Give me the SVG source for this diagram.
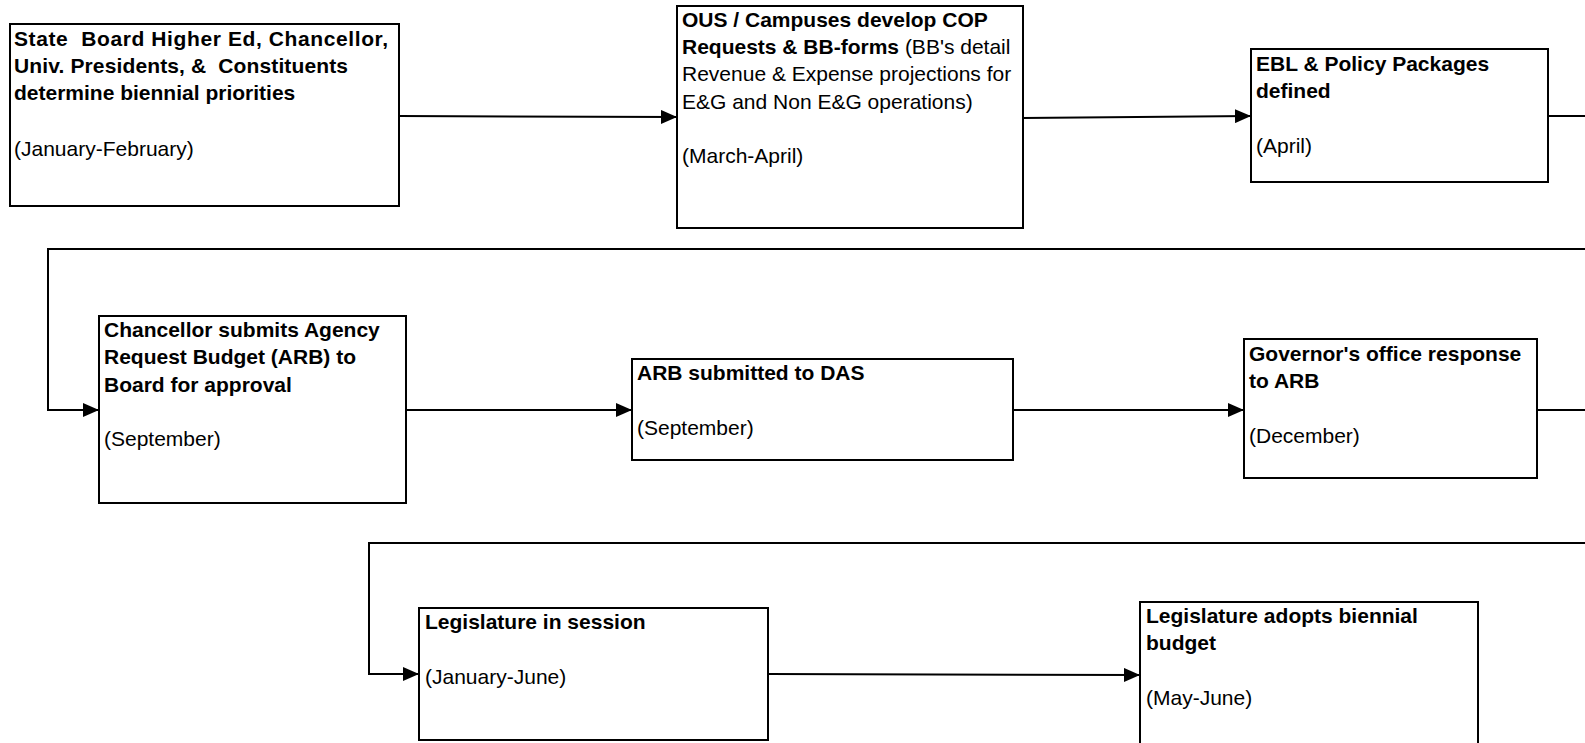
<svg xmlns="http://www.w3.org/2000/svg" width="1585" height="743" viewBox="0 0 1585 743">
<style>
.box{fill:#fff;stroke:#000;stroke-width:2}
.t{font-family:"Liberation Sans",Arial,sans-serif;font-size:21px;fill:#000;white-space:pre}
.b{font-weight:bold}
.c{fill:none;stroke:#000;stroke-width:2}
</style>
<defs>
<marker id="ah" markerUnits="userSpaceOnUse" markerWidth="16" markerHeight="14" refX="16" refY="7" orient="auto">
<path d="M0,0 L16,7 L0,14 Z" fill="#000"/>
</marker>
</defs>
<rect width="1585" height="743" fill="#fff"/>
<g id="connectors">
<path class="c" d="M399,116 L677,117" marker-end="url(#ah)"/>
<path class="c" d="M1023,118 L1251,116" marker-end="url(#ah)"/>
<path class="c" d="M1548,116 L1600,116 L1600,249 L48,249 L48,410 L99,410" marker-end="url(#ah)"/>
<path class="c" d="M406,410 L632,410" marker-end="url(#ah)"/>
<path class="c" d="M1013,410 L1244,410" marker-end="url(#ah)"/>
<path class="c" d="M1537,410 L1600,410 L1600,543 L369,543 L369,674 L419,674" marker-end="url(#ah)"/>
<path class="c" d="M768,674 L1140,675" marker-end="url(#ah)"/>
</g>
<g id="n1">
<rect class="box" x="10" y="24" width="389" height="182"/>
<text class="t b" x="14" y="46" xml:space="preserve" textLength="374">State  Board Higher Ed, Chancellor,</text>
<text class="t b" x="14" y="73" xml:space="preserve" textLength="334">Univ. Presidents, &amp;  Constituents</text>
<text class="t b" x="14" y="100">determine biennial priorities</text>
<text class="t" x="14" y="156">(January-February)</text>
</g>
<g id="n2">
<rect class="box" x="677" y="6" width="346" height="222"/>
<text class="t b" x="682" y="27">OUS / Campuses develop COP</text>
<text class="t" x="682" y="54"><tspan class="b">Requests &amp; BB-forms</tspan> (BB's detail</text>
<text class="t" x="682" y="81">Revenue &amp; Expense projections for</text>
<text class="t" x="682" y="109">E&amp;G and Non E&amp;G operations)</text>
<text class="t" x="682" y="163">(March-April)</text>
</g>
<g id="n3">
<rect class="box" x="1251" y="49" width="297" height="133"/>
<text class="t b" x="1256" y="71">EBL &amp; Policy Packages</text>
<text class="t b" x="1256" y="98">defined</text>
<text class="t" x="1256" y="153">(April)</text>
</g>
<g id="n4">
<rect class="box" x="99" y="316" width="307" height="187"/>
<text class="t b" x="104" y="337">Chancellor submits Agency</text>
<text class="t b" x="104" y="364">Request Budget (ARB) to</text>
<text class="t b" x="104" y="392">Board for approval</text>
<text class="t" x="104" y="446">(September)</text>
</g>
<g id="n5">
<rect class="box" x="632" y="359" width="381" height="101"/>
<text class="t b" x="637" y="380">ARB submitted to DAS</text>
<text class="t" x="637" y="435">(September)</text>
</g>
<g id="n6">
<rect class="box" x="1244" y="339" width="293" height="139"/>
<text class="t b" x="1249" y="361">Governor's office response</text>
<text class="t b" x="1249" y="388">to ARB</text>
<text class="t" x="1249" y="443">(December)</text>
</g>
<g id="n7">
<rect class="box" x="419" y="608" width="349" height="132"/>
<text class="t b" x="425" y="629">Legislature in session</text>
<text class="t" x="425" y="684">(January-June)</text>
</g>
<g id="n8">
<rect class="box" x="1140" y="602" width="338" height="160"/>
<text class="t b" x="1146" y="623">Legislature adopts biennial</text>
<text class="t b" x="1146" y="650">budget</text>
<text class="t" x="1146" y="705">(May-June)</text>
</g>
</svg>
